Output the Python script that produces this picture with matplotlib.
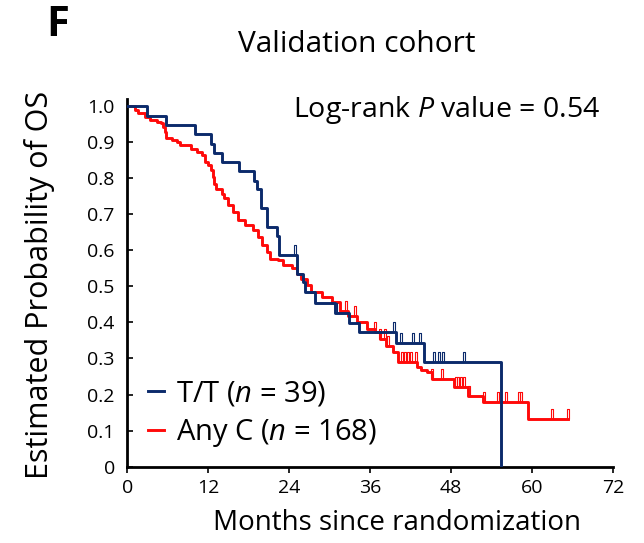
import numpy as np
import matplotlib
matplotlib.use("Agg")
import matplotlib.pyplot as plt
from matplotlib.path import Path

plt.rcParams['font.family'] = ['Open Sans', 'DejaVu Sans']
plt.rcParams['mathtext.fontset'] = 'custom'
plt.rcParams['mathtext.rm'] = 'Open Sans'
plt.rcParams['mathtext.it'] = 'Open Sans:italic'

# T/T group (n = 39): step times (months) and survival after each step
tt_times = [0, 2.9, 5.7, 10.0, 12.4, 12.9, 14.1, 16.5, 18.8, 19.2, 19.8, 20.7,
            22.2, 22.5, 25.1, 26.1, 26.4, 27.8, 30.8, 32.9, 34.3, 39.8, 44.0, 55.4]
tt_surv = [1.0, 0.973, 0.947, 0.922, 0.896, 0.870, 0.844, 0.819, 0.793, 0.769,
           0.716, 0.665, 0.639, 0.588, 0.535, 0.512, 0.484, 0.454, 0.427, 0.398,
           0.373, 0.343, 0.290, 0.0]
tt_censor = [24.9, 30.9, 39.6, 40.5, 42.4, 43.4, 45.4, 46.2, 46.8, 49.9]

# Any C group (n = 168)
c_times = [0, 1.1, 1.6, 2.6, 3.4, 4.4, 5.0, 5.3, 5.6, 5.8, 6.6, 7.3, 7.8, 9.5,
           10.3, 11.0, 11.5, 12.0, 12.4, 12.7, 12.9, 13.2, 14.0, 14.4, 15.0,
           15.7, 16.4, 17.4, 18.7, 19.4, 19.9, 20.7, 21.1, 22.4, 23.1, 24.4,
           25.1, 25.8, 26.6, 27.3, 28.8, 30.3, 31.5, 32.7, 34.0, 35.5, 36.7,
           37.4, 38.4, 39.4, 40.1, 42.9, 43.6, 44.4, 45.1, 48.5, 50.5, 52.7,
           59.4, 65.3]
c_surv = [1.0, 0.989, 0.98, 0.97, 0.961, 0.956, 0.954, 0.943, 0.929, 0.91,
          0.906, 0.90, 0.892, 0.882, 0.873, 0.864, 0.845, 0.836, 0.822, 0.804,
          0.785, 0.769, 0.757, 0.744, 0.725, 0.706, 0.683, 0.669, 0.656, 0.637,
          0.614, 0.595, 0.577, 0.574, 0.558, 0.552, 0.535, 0.521, 0.503, 0.484,
          0.47, 0.456, 0.433, 0.419, 0.401, 0.382, 0.373, 0.355, 0.336, 0.318,
          0.29, 0.276, 0.269, 0.262, 0.244, 0.22, 0.197, 0.179, 0.132, 0.132]
c_censor = [32.4, 33.7, 36.7, 37.4, 38.2, 38.7, 40.7, 41.1, 41.6, 42.1, 42.8,
            45.1, 46.7, 48.8, 49.0, 49.5, 49.9, 50.7, 52.9, 55.0, 56.2, 58.1,
            58.4, 63.0, 65.3]

x_ticks = [0, 12, 24, 36, 48, 60, 72]
y_ticks = [0, 0.1, 0.2, 0.3, 0.4, 0.5, 0.6, 0.7, 0.8, 0.9, 1.0]
y_ticklabels = ['0', '0.1', '0.2', '0.3', '0.4', '0.5', '0.6', '0.7', '0.8', '0.9', '1.0']

blue = '#0b2a6b'
red = '#ff0a0a'

# open "n" shaped censor mark sitting on the curve
censor_mark = Path([(-0.12, 0), (-0.12, 1), (0.12, 1), (0.12, 0)],
                   [Path.MOVETO, Path.LINETO, Path.LINETO, Path.LINETO])


def surv_at(times, surv, t):
    i = np.searchsorted(times, t, side='right') - 1
    return np.array(surv)[i]


W, H = 644, 543
fig = plt.figure(figsize=(W / 100, H / 100), dpi=100)
ax = fig.add_axes([127.3 / W, 1 - 466.7 / H, (613 - 127.3) / W, 1.02 * 360.7 / H])

l1, = ax.step(tt_times, tt_surv, where='post', color=blue, lw=2.1,
              label='T/T ($n$ = 39)', zorder=3)
l2, = ax.step(c_times, c_surv, where='post', color=red, lw=2.1,
              label='Any C ($n$ = 168)', zorder=2)
ax.plot(tt_censor, surv_at(tt_times, tt_surv, tt_censor), ls='none',
        marker=censor_mark, ms=15, mfc='none', mec=blue, mew=0.8, zorder=3)
ax.plot(c_censor, surv_at(c_times, c_surv, c_censor), ls='none',
        marker=censor_mark, ms=15, mfc='none', mec=red, mew=0.8, zorder=2)

ax.set_xlim(0, 72)
ax.set_ylim(0, 1.02)
ax.set_xticks(x_ticks)
ax.set_yticks(y_ticks)
ax.set_yticklabels(y_ticklabels)
for s in ['top', 'right']:
    ax.spines[s].set_visible(False)
for s in ['left', 'bottom']:
    ax.spines[s].set_linewidth(2)
ax.tick_params(axis='x', direction='out', length=4, width=1.2, labelsize=14, pad=5)
ax.tick_params(axis='y', direction='in', length=4, width=1.2, labelsize=14, pad=9)

ax.legend(handles=[l1, l2], loc='lower left', bbox_to_anchor=(148 / W, 1 - 449 / H),
          bbox_transform=fig.transFigure, frameon=False, fontsize=21,
          handlelength=0.55, handletextpad=0.4, labelspacing=0.3,
          borderaxespad=0, borderpad=0)

fig.text(58 / W, 1 - 25 / H, 'F', fontsize=30, fontweight='bold', ha='center', va='center')
fig.text(357 / W, 1 - 45 / H, 'Validation cohort', fontsize=21.5, ha='center', va='center')
fig.text(293 / W, 1 - 110 / H, 'Log-rank $P$ value = 0.54', fontsize=20.5, ha='left', va='center')
fig.text(40 / W, 1 - 285 / H, 'Estimated Probability of OS', fontsize=22,
         rotation=90, ha='center', va='center')
fig.text(397 / W, 1 - 523 / H, 'Months since randomization', fontsize=20,
         ha='center', va='center')

fig.savefig('out.png', dpi=100)
